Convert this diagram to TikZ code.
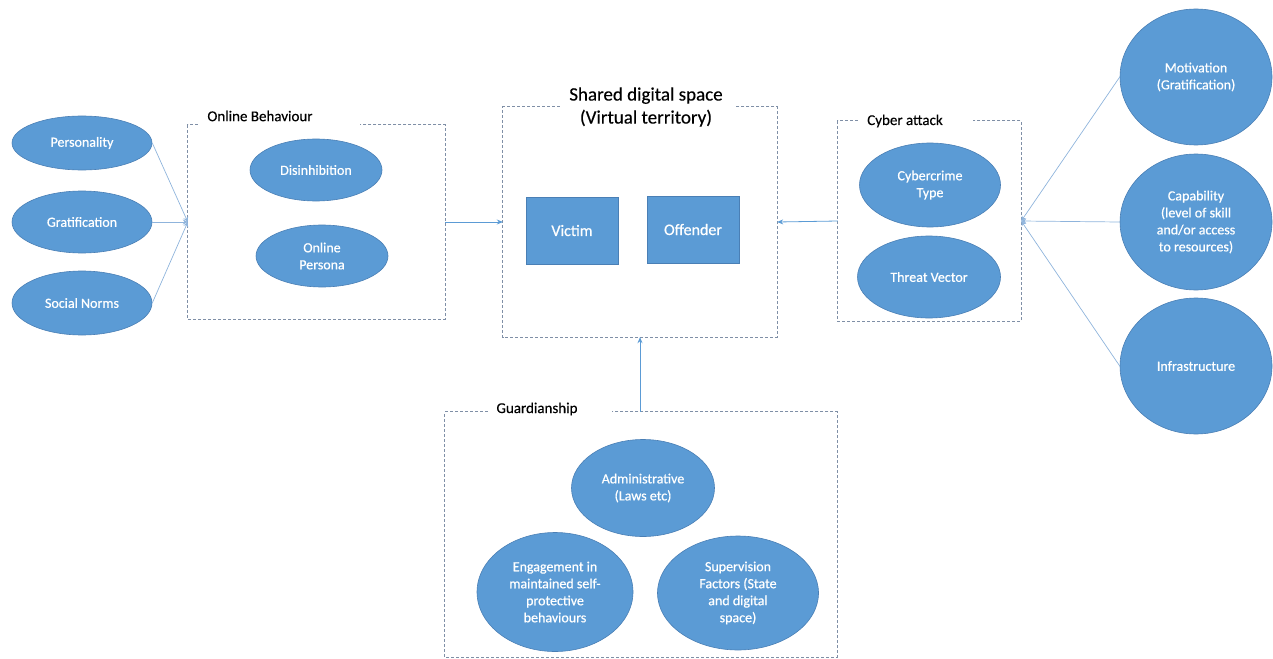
\documentclass[tikz,border=0pt]{standalone}
\usepackage{fontspec}
\setmainfont{Carlito}
\newfontfamily\wfont[FakeBold=0.6]{Carlito}
\newfontfamily\tfont[FakeBold=0.3]{Carlito}
\usetikzlibrary{shapes.geometric,arrows.meta}
\definecolor{obl}{HTML}{5B9BD5}
\definecolor{obd}{HTML}{4A7FB5}
\definecolor{frm}{HTML}{7F8FA6}
\definecolor{lnk}{HTML}{8FB4DC}
\begin{document}
\begin{tikzpicture}[x=1pt,y=-1pt,
  ell/.style={ellipse, fill=obl, draw=obd, line width=0.6pt, text=white,
    font=\wfont\fontsize{14}{17}\selectfont, align=center, inner sep=0pt},
  sq/.style={rectangle, fill=obl, draw=obd, line width=0.6pt, text=white,
    font=\wfont\fontsize{16}{19}\selectfont, inner sep=0pt},
  area/.style={rectangle, inner sep=0pt},
  frame/.style={draw=frm, line width=1pt, dash pattern=on 3pt off 2pt},
  ttl/.style={font=\tfont\fontsize{15}{18}\selectfont, text=black, inner sep=0pt},
  conn/.style={draw=lnk, line width=0.7pt},
  arr/.style={draw=obl, line width=0.8pt, -{Stealth[length=6pt,width=5pt]}}
]
\useasboundingbox (0,0) rectangle (1273,658);

% ---- left ellipses
\node[ell, minimum width=140pt, minimum height=54pt] (pers) at (82,143) {Personality};
\node[ell, minimum width=140pt, minimum height=62pt] (grat) at (82,222) {Gratification};
\node[ell, minimum width=140pt, minimum height=64pt] (norm) at (82,303) {Social Norms};

% ---- Online behaviour box
\node[area, minimum width=257pt, minimum height=194pt] (ob) at (316.5,222) {};
\draw[frame] ([xshift=10pt]ob.north west) -- (ob.north west) -- (ob.south west)
  -- (ob.south east) -- (ob.north east) -- ([xshift=-85pt]ob.north east);
\node[ttl, anchor=center] (obt) at (260,116) {Online Behaviour};
\node[ell, minimum width=132pt, minimum height=62pt] (dis) at (316,170) {Disinhibition};
\node[ell, minimum width=132pt, minimum height=62pt] (per) at (322,256) {Online\\Persona};

% ---- Shared digital space
\node[area, minimum width=274pt, minimum height=230pt] (sh) at (640,222) {};
\draw[frame] ([xshift=57pt]sh.north west) -- (sh.north west) -- (sh.south west)
  -- (sh.south east) -- (sh.north east) -- ([xshift=-42pt]sh.north east);
\node[ttl, font=\tfont\fontsize{19}{23}\selectfont, align=center] (sht) at (646,107)
  {Shared digital space\\(Virtual territory)};
\node[sq, minimum width=92pt, minimum height=67pt] (vic) at (572,230.5) {Victim};
\node[sq, minimum width=92pt, minimum height=67pt] (off) at (693,229.5) {Offender};

% ---- Cyber attack box
\node[area, minimum width=183pt, minimum height=200pt] (ca) at (929.5,221) {};
\draw[frame] ([xshift=20pt]ca.north west) -- (ca.north west) -- (ca.south west)
  -- (ca.south east) -- (ca.north east) -- ([xshift=-48pt]ca.north east);
\node[ttl] (cat) at (905,121) {Cyber attack};
\node[ell, minimum width=141pt, minimum height=84pt] (cct) at (930,185) {Cybercrime\\Type};
\node[ell, minimum width=143pt, minimum height=82pt] (tv) at (929,277) {Threat Vector};

% ---- right ellipses
\node[ell, minimum width=152pt, minimum height=136pt] (mot) at (1196,77) {Motivation\\(Gratification)};
\node[ell, minimum width=152pt, minimum height=136pt] (cap) at (1196,222) {Capability\\(level of skill\\and/or access\\to resources)};
\node[ell, minimum width=152pt, minimum height=136pt] (inf) at (1196,366) {Infrastructure};

% ---- Guardianship box
\node[area, minimum width=392pt, minimum height=245pt] (gu) at (641,534.5) {};
\draw[frame] ([xshift=43pt]gu.north west) -- (gu.north west) -- (gu.south west)
  -- (gu.south east) -- (gu.north east) -- ([xshift=-225pt]gu.north east);
\node[ttl] (gut) at (537,409) {Guardianship};
\node[ell, minimum width=143pt, minimum height=97pt] (adm) at (643,488) {Administrative\\(Laws etc)};
\node[ell, minimum width=156pt, minimum height=119pt] (eng) at (555,592) {Engagement in\\maintained self-\\protective\\behaviours};
\node[ell, minimum width=161pt, minimum height=114pt] (sup) at (738,593) {Supervision\\Factors (State\\and digital\\space)};

% ---- connectors
\draw[conn, -{Stealth[length=5pt,width=5pt]}] (pers.east) -- (ob.west);
\draw[conn, -{Stealth[length=5pt,width=5pt]}] (grat.east) -- (ob.west);
\draw[conn, -{Stealth[length=5pt,width=5pt]}] (norm.east) -- (ob.west);
\draw[arr] (ob.east) -- (sh.west);
\draw[arr] (ca.west) -- (sh.east);
\draw[arr] (gu.north -| sh.south) -- (sh.south);
\draw[conn, -{Stealth[length=5pt,width=5pt]}] (mot.west) -- (ca.east);
\draw[conn, -{Stealth[length=5pt,width=5pt]}] (cap.west) -- (ca.east);
\draw[conn, -{Stealth[length=5pt,width=5pt]}] (inf.west) -- (ca.east);
\end{tikzpicture}
\end{document}
